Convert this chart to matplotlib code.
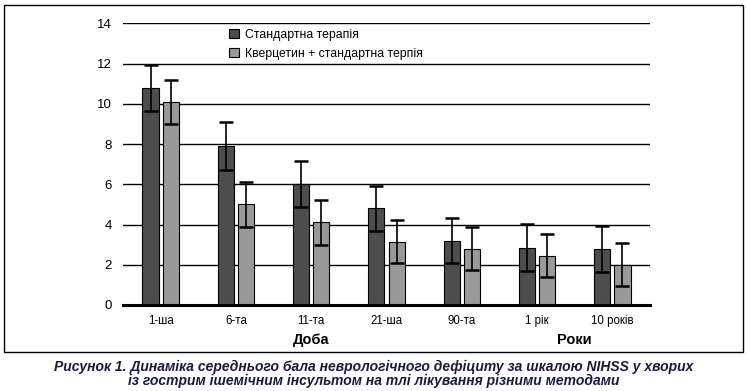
import matplotlib.pyplot as plt
import numpy as np
from matplotlib.patches import Rectangle

plt.rcParams['font.family'] = ['Liberation Sans', 'DejaVu Sans']

labels = ['1-ша', '6-та', '11-та', '21-ша', '90-та', '1 рік', '10 років']
standard = [10.8, 7.9, 6.0, 4.8, 3.2, 2.85, 2.8]
standard_err = [1.15, 1.2, 1.15, 1.12, 1.1, 1.18, 1.15]
quercetin = [10.1, 5.0, 4.1, 3.15, 2.8, 2.45, 2.0]
quercetin_err = [1.1, 1.1, 1.13, 1.05, 1.08, 1.08, 1.06]

fig = plt.figure(figsize=(7.47, 3.91), dpi=100)
ax = fig.add_axes([0.1647, 0.22, 0.7054, 0.7204])

x = np.arange(len(labels))
w = 0.215
err_kw = dict(ecolor='black', elinewidth=1.2, capsize=5, capthick=1.8)
ax.bar(x - 0.135, standard, w, yerr=standard_err, color='#4d4d4d',
       edgecolor='black', linewidth=0.8, error_kw=err_kw, label='Стандартна терапія', zorder=3)
ax.bar(x + 0.135, quercetin, w, yerr=quercetin_err, color='#999999',
       edgecolor='black', linewidth=0.8, error_kw=err_kw, label='Кверцетин + стандартна терпія', zorder=3)

ax.set_xlim(-0.5, len(labels) - 0.5)
ax.set_ylim(0, 14)
ax.set_yticks(range(0, 15, 2))
ax.set_xticks(x)
ax.set_xticklabels(labels, fontsize=8.3)
ax.tick_params(axis='y', labelsize=9.5, length=0, pad=8)
ax.tick_params(axis='x', length=0, pad=7)
ax.grid(axis='y', color='black', linewidth=1, zorder=0)
for s in ['left', 'right', 'top']:
    ax.spines[s].set_visible(False)
ax.spines['bottom'].set_linewidth(2.2)
ax.spines['bottom'].set_zorder(4)

ax.text(2, -1.75, 'Доба', ha='center', va='center', fontsize=10.5, fontweight='bold')
ax.text(5.5, -1.75, 'Роки', ha='center', va='center', fontsize=10.5, fontweight='bold')

leg = ax.legend(loc='upper left', bbox_to_anchor=(0.18, 1.02), frameon=False, fontsize=8.8,
                handlelength=0.8, handleheight=0.8, handletextpad=0.5, labelspacing=0.6)

fig.patches.append(Rectangle((4 / 747, 1 - 352 / 391), 739 / 747, 347 / 391,
                             transform=fig.transFigure, fill=False, edgecolor='black', linewidth=1))

fig.text(0.5, 1 - 367 / 391, 'Рисунок 1. Динаміка середнього бала неврологічного дефіциту за шкалою NIHSS у хворих',
         ha='center', va='center', fontsize=10, fontweight='bold', style='italic', color='#1a1a40')
fig.text(0.5, 1 - 381 / 391, 'із гострим ішемічним інсультом на тлі лікування різними методами',
         ha='center', va='center', fontsize=10, fontweight='bold', style='italic', color='#1a1a40')

fig.savefig('out.png', dpi=100)
